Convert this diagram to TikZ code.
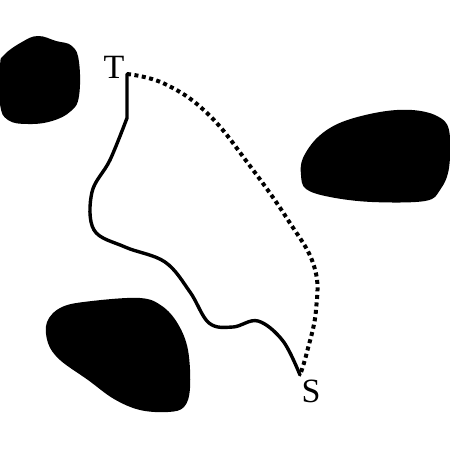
\documentclass[tikz,border=0pt]{standalone}
\usepackage{fontspec}
\setmainfont{Liberation Serif}
\begin{document}
\begin{tikzpicture}[x=1pt,y=-1pt,every node/.style={inner sep=0pt,font=\fontsize{34}{40}\selectfont},
            route/.style={line width=3.4pt,line cap=round,line join=round},
            dotroute/.style={line width=4pt,dash pattern=on 4pt off 3.5pt}]
            \useasboundingbox (0,0) rectangle (450,450);
            % obstacles
            \fill plot[smooth cycle,tension=0.7] coordinates {(4,55) (22,42) (38,36) (56,41) (72,46) (79,62) (79,96) (71,111) (52,121) (28,124) (8,120) (0,104) (0,66)};
            \fill plot[smooth cycle,tension=0.6] coordinates {(303,158) (318,137) (342,122) (380,112) (412,110) (437,116) (449,130) (449,168) (440,190) (425,201) (372,202) (330,197) (306,189) (301,175)};
            \fill plot[smooth cycle,tension=0.6] coordinates {(47,322) (62,307) (92,301) (140,298) (162,306) (178,324) (188,350) (190,388) (184,407) (168,412) (140,410) (114,399) (88,380) (60,360) (48,343)};
            % start and goal
            \node (T) at (114,67) {T};
            \node (S) at (311,391) {S};
            \coordinate (t) at (127,74);
            \coordinate (s) at (300,375);
            \draw[route] (t) -- (127,118) -- plot[smooth,tension=0.6] coordinates {(127,118) (110,160) (92,192) (94,230) (125,247) (165,262) (190,292) (209,323) (233,327) (258,321) (283,341) (s)};
            \draw[dotroute] plot[smooth,tension=0.7] coordinates {(t) (165,84) (208,114) (250,166) (288,220) (314,266) (316,310) (307,352) (s)};
        \end{tikzpicture}
\end{document}
